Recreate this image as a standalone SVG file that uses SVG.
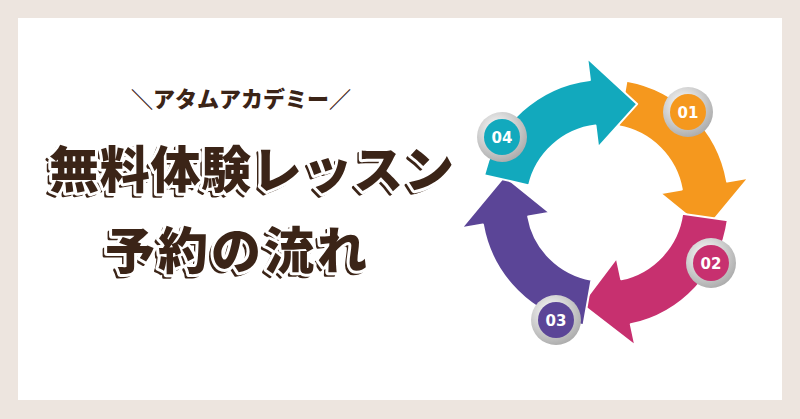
<svg xmlns="http://www.w3.org/2000/svg" width="800" height="419" viewBox="0 0 800 419">
<defs>
<style>
.t{font-family:"Noto Sans CJK JP",sans-serif;font-weight:900;}
.sh{fill:#3b2417;stroke:#3b2417;stroke-width:3;stroke-linejoin:round}
.wo{fill:#fff;stroke:#fff;stroke-width:6;stroke-linejoin:round}
.fi{fill:#3b2417}
.arr{stroke:#fff;stroke-width:2;stroke-linejoin:round}
.bn{font-family:"DejaVu Sans",sans-serif;font-weight:bold;font-size:15px;fill:#fff;text-anchor:middle}
</style>
<path id="ar" d="M-10.81,-123.53 A124 124 0 0 1 112.38,-52.4 L132.32,-61.7 L104,0 L50.75,-23.67 L70.69,-32.96 A78 78 0 0 0 -6.8,-77.7 Z"/>
<radialGradient id="sil" cx="40%" cy="35%" r="70%"><stop offset="0" stop-color="#ffffff"/><stop offset="1" stop-color="#a9a9a9"/></radialGradient>
</defs>
<rect width="800" height="419" fill="#ede5df"/>
<rect x="18" y="18" width="764" height="382" fill="#fff"/>
<g id="title">
<text class="t fi" x="241" y="107" font-size="22" text-anchor="middle" font-weight="700">＼アタムアカデミー／</text>
<g font-size="50" class="t">
<text class="sh" x="46" y="191" textLength="405">無料体験レッスン</text>
<text class="wo" x="49" y="188" textLength="405">無料体験レッスン</text>
<text class="fi" x="49" y="188" textLength="405">無料体験レッスン</text>
<text class="sh" x="102" y="272" textLength="262">予約の流れ</text>
<text class="wo" x="105" y="269" textLength="262">予約の流れ</text>
<text class="fi" x="105" y="269" textLength="262">予約の流れ</text>
</g>
</g>
<g id="cycle" transform="translate(605,203)">
<use href="#ar" class="arr" fill="#f5981e" transform="rotate(15)"/>
<use href="#ar" class="arr" fill="#c7306f" transform="rotate(103)"/>
<use href="#ar" class="arr" fill="#5b4597" transform="rotate(195)"/>
<use href="#ar" class="arr" fill="#12a9bd" transform="rotate(288)"/>
</g>
<g id="b1"><circle cx="688" cy="112" r="25" fill="url(#sil)"/><circle cx="688" cy="112" r="18" fill="#f5981e"/><text class="bn" x="688" y="118">01</text></g>
<g id="b2"><circle cx="711" cy="263" r="25" fill="url(#sil)"/><circle cx="711" cy="263" r="18" fill="#c7306f"/><text class="bn" x="711" y="269">02</text></g>
<g id="b3"><circle cx="556" cy="320" r="25" fill="url(#sil)"/><circle cx="556" cy="320" r="18" fill="#5b4597"/><text class="bn" x="556" y="326">03</text></g>
<g id="b4"><circle cx="502" cy="137" r="25" fill="url(#sil)"/><circle cx="502" cy="137" r="18" fill="#12a9bd"/><text class="bn" x="502" y="143">04</text></g>
</svg>
